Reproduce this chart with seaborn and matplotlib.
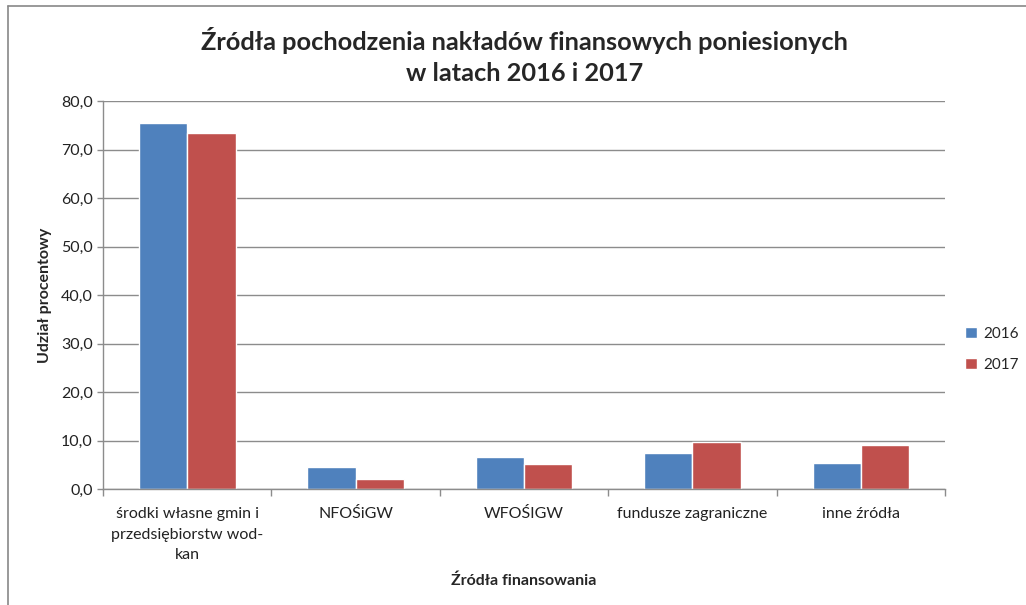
import matplotlib
matplotlib.use("Agg")

import matplotlib.pyplot as plt
from matplotlib.lines import Line2D
from matplotlib.ticker import FuncFormatter, FixedLocator
import pandas as pd
import seaborn as sns


categories = [
    "środki własne gmin i\nprzedsiębiorstw wod-\nkan",
    "NFOŚiGW",
    "WFOŚIGW",
    "fundusze zagraniczne",
    "inne źródła",
]
years = ["2016", "2017"]
values_2016 = [75.5, 4.5, 6.7, 7.4, 5.4]
values_2017 = [73.4, 2.1, 5.2, 9.6, 9.1]

df = pd.DataFrame({
    "kategoria": categories * 2,
    "rok": [years[0]] * len(categories) + [years[1]] * len(categories),
    "udzial": values_2016 + values_2017,
})

sns.set_theme(style="white")
plt.rcParams["font.family"] = ["Lato", "DejaVu Sans"]

fig = plt.figure(figsize=(10.26, 6.05), dpi=100)
ax = fig.add_axes([0.1004, 0.1917, 0.8207, 0.6413])

sns.barplot(
    data=df, x="kategoria", y="udzial", hue="rok",
    palette=["#4F81BD", "#C0504D"], width=0.574, gap=0,
    saturation=1, ax=ax,
)

ax.set_xlim(-0.5, len(categories) - 0.5)
ax.set_ylim(0, 80)
ax.set_yticks(range(0, 81, 10))
ax.yaxis.set_major_formatter(FuncFormatter(lambda v, p: f"{v:.1f}".replace(".", ",")))
ax.yaxis.grid(True, color="#8C8C8C", linewidth=1)
ax.set_axisbelow(True)

ax.xaxis.set_minor_locator(FixedLocator([i + 0.5 for i in range(-1, len(categories))]))
ax.tick_params(axis="x", which="major", length=0, pad=13, labelsize=11.5, colors="#222222")
ax.tick_params(axis="x", which="minor", length=5, width=1, color="#8C8C8C", bottom=True)
ax.tick_params(axis="y", length=4, width=1, color="#8C8C8C", left=True, labelsize=11.5,
               colors="#222222")
for lbl in ax.get_xticklabels():
    lbl.set_linespacing(1.6)
    lbl.set_verticalalignment("top")

for side in ["top", "right"]:
    ax.spines[side].set_visible(False)
for side in ["left", "bottom"]:
    ax.spines[side].set_color("#8C8C8C")
    ax.spines[side].set_linewidth(1)

ax.set_xlabel("Źródła finansowania", fontsize=11.5, fontweight="bold", labelpad=8)
ax.set_ylabel("Udział procentowy", fontsize=11.5, fontweight="bold", labelpad=6)

fig.text(0.511, 0.907, "Źródła pochodzenia nakładów finansowych poniesionych\nw latach 2016 i 2017",
         ha="center", va="center", fontsize=18.3, fontweight="bold", linespacing=1.4)

ax.legend(loc="center left", bbox_to_anchor=(1.024, 0.36), frameon=False, fontsize=11,
          borderaxespad=0, borderpad=0,
          handlelength=0.75, handleheight=0.75, labelspacing=1.1, handletextpad=0.45)

fig.add_artist(Line2D([8 / 1026, 8 / 1026], [0, 1 - 6 / 605], color="#888888", linewidth=1.2))
fig.add_artist(Line2D([8 / 1026, 1], [1 - 6 / 605, 1 - 6 / 605], color="#888888", linewidth=1.2))

fig.savefig("out.png", dpi=100)
